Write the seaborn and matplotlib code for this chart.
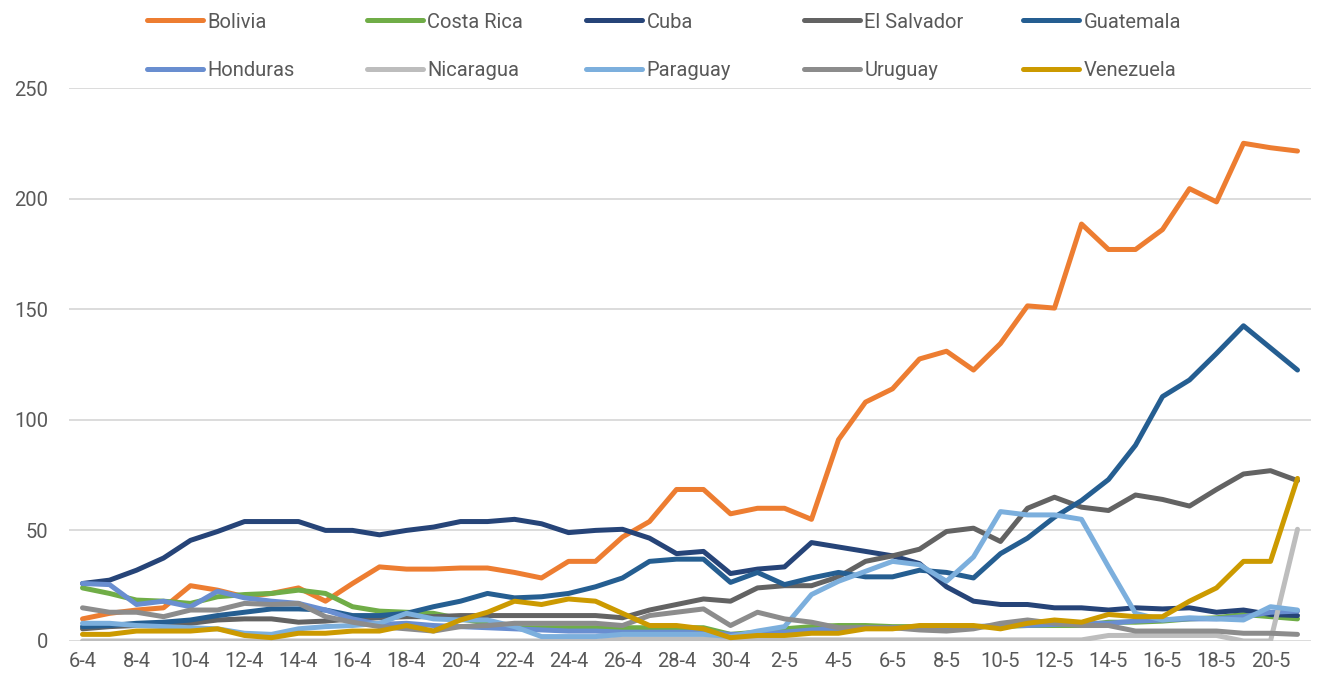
import matplotlib
matplotlib.use("Agg")
import matplotlib.pyplot as plt
import pandas as pd
import seaborn as sns

sns.set_theme(style="white")
plt.rcParams['font.family'] = ['Roboto', 'DejaVu Sans']

# categories (day-month)
dates = ["6-4", "7-4", "8-4", "9-4", "10-4", "11-4", "12-4", "13-4", "14-4", "15-4",
         "16-4", "17-4", "18-4", "19-4", "20-4", "21-4", "22-4", "23-4", "24-4", "25-4",
         "26-4", "27-4", "28-4", "29-4", "30-4", "1-5", "2-5", "3-5", "4-5", "5-5",
         "6-5", "7-5", "8-5", "9-5", "10-5", "11-5", "12-5", "13-5", "14-5", "15-5",
         "16-5", "17-5", "18-5", "19-5", "20-5", "21-5"]

bolivia = [10, 12.5, 14, 15, 25, 23, 20, 21.5, 24, 18, 26, 33.5, 32.5, 32.5, 33, 33, 31, 28.5,
           36, 36, 47, 54, 68.5, 68.5, 57.5, 60, 60, 55, 91, 108, 114, 127.5, 131, 122.5, 134.5,
           151.5, 150.5, 188.5, 177, 177, 186, 204.5, 198.5, 225, 223, 221.5]
costa_rica = [24, 21.5, 18.5, 18, 17, 20, 21, 21.5, 23, 21.5, 15.5, 13.5, 13, 12.5, 10, 8, 6, 6,
              6, 6, 6, 6, 6, 6, 3, 4, 5.5, 6.5, 7, 7, 6.5, 6.5, 6.5, 6.5, 6.5, 7, 7, 7, 8.5, 8.5,
              9, 10, 10.5, 12, 11, 10]
cuba = [26, 27.5, 32, 37.5, 45.5, 49.5, 54, 54, 54, 50, 50, 48, 50, 51.5, 54, 54, 55, 53, 49, 50,
        50.5, 46.5, 39.5, 40.5, 30.5, 32.5, 33.5, 44.5, 42.5, 40.5, 38.5, 35, 24.5, 18, 16.5,
        16.5, 15, 15, 14, 15, 14.5, 15, 13, 14, 12, 11.5]
el_salvador = [5.5, 6.5, 7, 7, 8, 9.5, 10, 10, 8.5, 9, 10, 10.5, 11, 11, 11.5, 11.5, 11.5, 11.5,
               11.5, 11.5, 10.5, 14, 16.5, 19, 18, 24, 25, 25, 29, 36, 38.5, 41.5, 49.5, 51, 45,
               60, 65, 60.5, 59, 66, 64, 61, 68.5, 75.5, 77, 72.5]
guatemala = [6.5, 7, 8, 8.5, 9.5, 11.5, 13, 14.5, 14.5, 14, 11.5, 11.5, 12.5, 15.5, 18, 21.5,
             19.5, 20, 21.5, 24.5, 28.5, 36, 37, 37, 26.5, 31, 25.5, 28.5, 31, 29, 29, 32, 31,
             28.5, 39.5, 46.5, 56, 63.5, 73, 88.5, 110.5, 118, 130, 142.5, 132.5, 122.5]
honduras = [26, 25.5, 16.5, 18, 15.5, 22.5, 19.5, 18, 17, 14, 10, 7.5, 8, 7, 6.5, 6, 5.5, 5,
            4.5, 4.5, 4, 4, 4, 4, 3, 3, 4, 5, 5.5, 6, 6, 6, 6, 6.5, 7, 7, 7.5, 8, 8, 9, 9.5, 10,
            10, 11, 13, 13.5]
nicaragua = [0, 0, 0, 0, 0, 0, 0, 0, 0, 0, 0, 0, 0, 0, 0, 0, 0, 0, 0, 0, 1, 1, 1, 1, 1, 0.5,
             0.5, 0.5, 0.5, 0.5, 0.5, 0.5, 0.5, 0.5, 0.5, 0.5, 0.5, 0.5, 2.5, 2.5, 2.5, 2.5, 2.5,
             0, 0, 50.5]
paraguay = [8, 8, 7, 6.5, 6, 5.5, 3.5, 3, 5.5, 6.5, 7, 8, 12.5, 10, 9.5, 9.5, 6.5, 2, 2, 2, 3, 3,
            3, 3, 2, 4.5, 6.5, 21, 27, 31.5, 36, 34.5, 27, 38, 58.5, 57, 57, 55, 33.5, 12.5, 9.5,
            10.5, 10, 9.5, 15.5, 14]
uruguay = [15, 13, 13, 11, 14, 14, 17, 16.5, 17, 11, 8.5, 6.5, 5.5, 4.5, 6.5, 7, 8, 8, 8, 8, 7,
           11.5, 13, 14.5, 7, 13, 10, 8.5, 6, 6, 6, 5, 4.5, 5.5, 8, 9.5, 8, 7, 7, 4.5, 4.5, 4.5,
           4.5, 3.5, 3.5, 3]
venezuela = [3, 3, 4.5, 4.5, 4.5, 5.5, 2.5, 1.5, 3.5, 3.5, 4.5, 4.5, 7, 4.5, 9.5, 13, 18, 16.5,
             19, 18, 12.5, 7, 7, 5.5, 1.5, 2.5, 2.5, 3.5, 3.5, 5.5, 5.5, 7, 7, 7, 5.5, 8, 9.5, 8.5,
             12, 11, 11, 18, 24, 36, 36, 73.5]

countries = ["Bolivia", "Costa Rica", "Cuba", "El Salvador", "Guatemala",
             "Honduras", "Nicaragua", "Paraguay", "Uruguay", "Venezuela"]
colors = ["#ED7D31", "#70AD47", "#264478", "#636363", "#255E91",
          "#698ED0", "#BDBDBD", "#7CAFDD", "#8C8C8C", "#CC9A00"]
palette = dict(zip(countries, colors))

wide = pd.DataFrame({"day": range(len(dates)),
                     "Bolivia": bolivia, "Costa Rica": costa_rica, "Cuba": cuba,
                     "El Salvador": el_salvador, "Guatemala": guatemala, "Honduras": honduras,
                     "Nicaragua": nicaragua, "Paraguay": paraguay, "Uruguay": uruguay,
                     "Venezuela": venezuela})
df = wide.melt(id_vars="day", var_name="country", value_name="value")

fig = plt.figure(figsize=(13.18, 6.88), dpi=100)
ax = fig.add_axes([69 / 1318, 1 - 641 / 688, (1311 - 69) / 1318, (641 - 88) / 688])

sns.lineplot(data=df, x="day", y="value", hue="country", hue_order=countries,
             palette=palette, linewidth=3.6, errorbar=None, ax=ax,
             solid_joinstyle="round", solid_capstyle="round")

handles, labels = ax.get_legend_handles_labels()
ax.legend_.remove()

ax.set_xlim(-0.5, len(dates) - 0.5)
ax.set_ylim(0, 250)
ax.set_yticks(range(0, 251, 50))
ax.set_xticks(range(0, len(dates), 2))
ax.set_xticklabels(dates[::2])
ax.set_xlabel("")
ax.set_ylabel("")
ax.grid(axis="y", color="#D9D9D9", linewidth=1.3)
ax.set_axisbelow(True)
for s in ax.spines.values():
    s.set_visible(False)
ax.tick_params(axis="both", length=0, labelsize=14.5, labelcolor="#595959")
ax.tick_params(axis="y", pad=15)
ax.tick_params(axis="x", pad=8)

# legend: two rows of five, equal column widths
col_x = [147, 367, 586, 804, 1023]
row_y = [22, 71]
for k, (h, lab) in enumerate(zip(handles, labels)):
    r, c = divmod(k, 5)
    fig.legend([h], [lab], loc="center left",
               bbox_to_anchor=(col_x[c] / 1318, 1 - row_y[r] / 688),
               frameon=False, borderpad=0, borderaxespad=0, handlelength=2.8,
               handletextpad=0.2, fontsize=14.5, labelcolor="#595959")

fig.savefig("out.png", dpi=100)
